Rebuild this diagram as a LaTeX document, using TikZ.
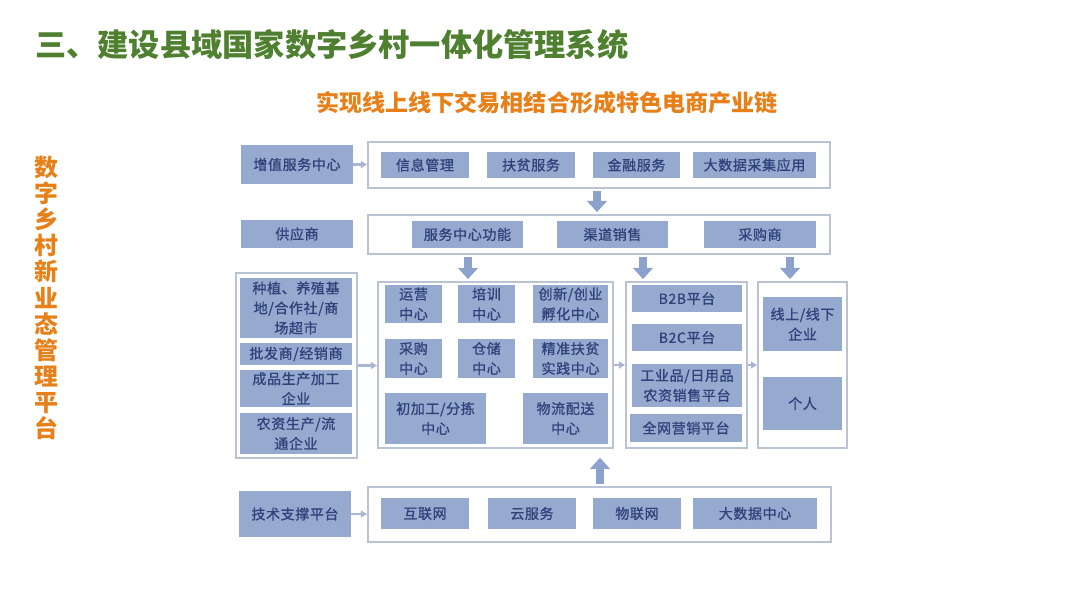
\documentclass[tikz,border=0pt]{standalone}
\usepackage{fontspec}
\setmainfont{Noto Sans CJK SC}
\newfontfamily\boxfont[FakeBold=1.0,LetterSpace=4]{Noto Sans CJK SC}
\usetikzlibrary{arrows.meta}
\definecolor{boxfill}{RGB}{150,170,208}
\definecolor{boxtext}{RGB}{48,66,122}
\definecolor{outline}{RGB}{185,195,212}
\definecolor{blkcol}{RGB}{140,162,205}
\definecolor{thncol}{RGB}{170,182,210}
\definecolor{titlegreen}{RGB}{78,128,48}
\definecolor{subor}{RGB}{232,128,26}
\newcommand\mybox[7][fbox]{\node[#1, minimum width={(#5-#3)*0.025cm}, minimum height={(#6-#4)*0.025cm}] (#2) at ({(#3+#5)/2},{(#4+#6)/2}) {#7};}
\tikzset{
  fbox/.style={fill=boxfill, inner sep=0pt, text=boxtext, align=center, font=\boxfont\fontsize{10pt}{14.2pt}\selectfont},
  obox/.style={draw=outline, line width=1.3pt, fill=white, inner sep=0pt},
  blk/.style={draw=blkcol, line width=5.7pt, line cap=butt, -{Triangle[width=14pt,length=8pt]}, shorten <=0.05cm},
  thn/.style={draw=thncol, line width=1.8pt, -{Triangle[width=5pt,length=4.5pt]}}
}
\begin{document}
\begin{tikzpicture}[x=0.025cm,y=-0.025cm]
\useasboundingbox (0,0) rectangle (1080,607);
% titles
\node[anchor=west, text=titlegreen, inner sep=0pt, font=\bfseries\fontsize{22.2pt}{24pt}\selectfont] (title) at (35,45) {三、建设县域国家数字乡村一体化管理系统};
\node[text=subor, inner sep=0pt, font=\bfseries\fontsize{16.4pt}{18pt}\selectfont] (sub) at (547,103) {实现线上线下交易相结合形成特色电商产业链};
\node[text=subor, inner sep=0pt, align=center, font=\bfseries\fontsize{17pt}{18.6pt}\selectfont] (vert) at (46,298) {数\\字\\乡\\村\\新\\业\\态\\管\\理\\平\\台};
% row 1
\mybox{zz}{241}{145}{353}{184}{增值服务中心}
\mybox[obox]{r1}{368}{142}{830}{188}{}
\mybox{b11}{381}{152}{469}{178}{信息管理}
\mybox{b12}{487}{152}{575}{178}{扶贫服务}
\mybox{b13}{593}{152}{680}{178}{金融服务}
\mybox{b14}{693}{152}{816}{178}{大数据采集应用}
% row 2
\mybox{gys}{241}{220}{353}{248}{供应商}
\mybox[obox]{r2}{368}{215}{830}{254}{}
\mybox{b21}{412}{221}{523}{248}{服务中心功能}
\mybox{b22}{557}{221}{668}{248}{渠道销售}
\mybox{b23}{704}{221}{816}{248}{采购商}
% row 3 left
\mybox[obox]{L}{236}{273}{357}{458}{}
\mybox{l1}{240}{278}{352}{338}{种植、养殖基\\地/合作社/商\\场超市}
\mybox{l2}{240}{343}{352}{365}{批发商/经销商}
\mybox{l3}{240}{370}{352}{407}{成品生产加工\\企业}
\mybox{l4}{240}{413}{352}{454}{农资生产/流\\通企业}
% row 3 centre
\mybox[obox]{C}{378}{282}{613}{448}{}
\mybox{c1}{385}{285}{442}{323}{运营\\中心}
\mybox{c2}{458}{285}{515}{323}{培训\\中心}
\mybox{c3}{533}{285}{608}{323}{创新/创业\\孵化中心}
\mybox{c4}{385}{339}{442}{378}{采购\\中心}
\mybox{c5}{458}{339}{515}{378}{仓储\\中心}
\mybox{c6}{533}{339}{608}{378}{精准扶贫\\实践中心}
\mybox{c7}{385}{393}{486}{444}{初加工/分拣\\中心}
\mybox{c8}{523}{393}{608}{444}{物流配送\\中心}
% row 3 platforms
\mybox[obox]{P}{626}{282}{747}{448}{}
\mybox{p1}{632}{285}{742}{312}{B2B平台}
\mybox{p2}{632}{324}{742}{351}{B2C平台}
\mybox{p3}{632}{364}{742}{407}{工业品/日用品\\农资销售平台}
\mybox{p4}{630}{414}{742}{442}{全网营销平台}
% row 3 right
\mybox[obox]{R}{758}{282}{847}{448}{}
\mybox{q1}{763}{297}{842}{351}{线上/线下\\企业}
\mybox{q2}{763}{377}{842}{430}{个人}
% row 4
\mybox{js}{239}{491}{351}{537}{技术支撑平台}
\mybox[obox]{r4}{368}{487}{831}{542}{}
\mybox{d1}{381}{498}{469}{529}{互联网}
\mybox{d2}{488}{498}{576}{529}{云服务}
\mybox{d3}{593}{498}{681}{529}{物联网}
\mybox{d4}{693}{498}{817}{529}{大数据中心}
% arrow columns
\coordinate (x598) at (597,0);
\coordinate (x469) at (468,0);
\coordinate (x643) at (643,0);
\coordinate (x790) at (790,0);
\coordinate (x600) at (600,0);
% block arrows
\draw[blk, shorten >=0.05cm] (r1.south -| x598) -- (r2.north -| x598);
\draw[blk, shorten >=0.05cm] (r2.south -| x469) -- (C.north -| x469);
\draw[blk, shorten >=0.05cm] (r2.south -| x643) -- (P.north -| x643);
\draw[blk, shorten >=0.05cm] (r2.south -| x790) -- (R.north -| x790);
\draw[blk, shorten >=0.22cm] (r4.north -| x600) -- (C.south -| x600);
% thin arrows
\draw[thn] (zz.east) -- (r1.west |- zz.east);
\draw[thn] (L.east) -- (C.west |- L.east);
\draw[thn] (C.east) -- (P.west |- C.east);
\draw[thn] (P.east) -- (R.west |- P.east);
\draw[thn] (js.east) -- (r4.west |- js.east);
\end{tikzpicture}
\end{document}
